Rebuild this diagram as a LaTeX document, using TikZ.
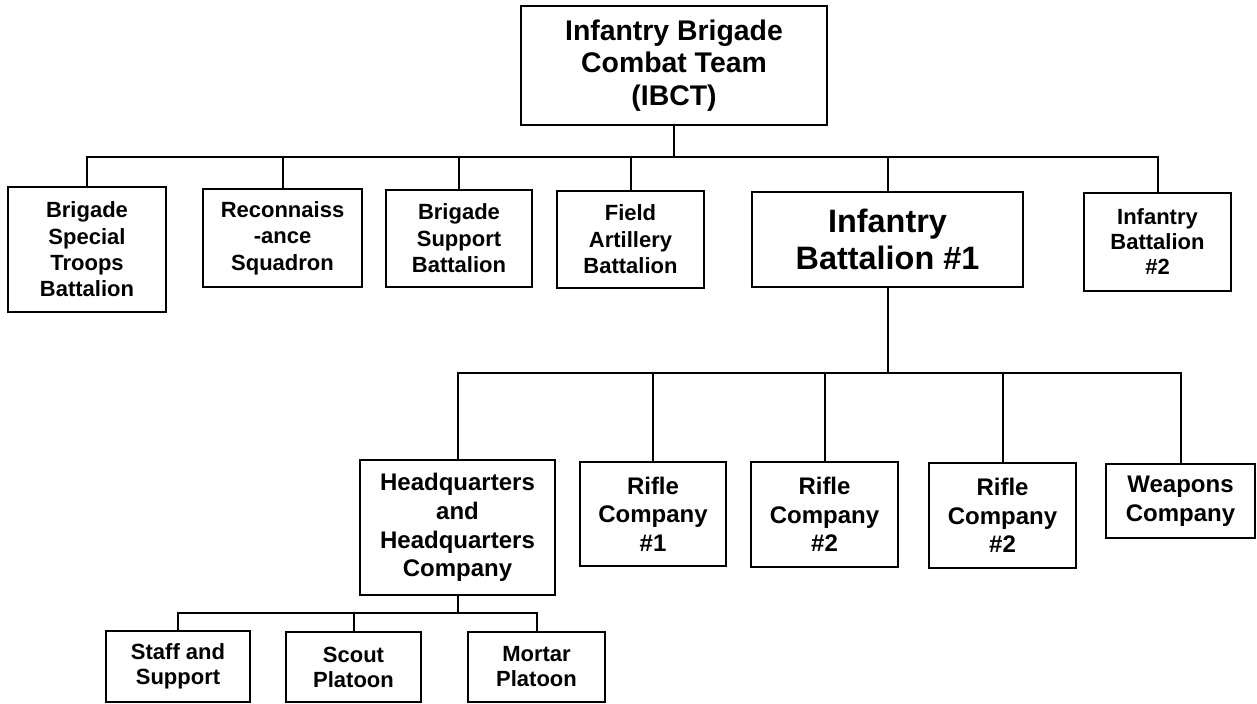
\documentclass[tikz,border=0pt]{standalone}
\usepackage{fontspec}
\setmainfont{Liberation Sans}
\usepackage{tikz}

\begin{document}
\begin{tikzpicture}[x=0.5pt, y=-0.5pt,
    unit/.style={draw, line width=1.2pt, align=center, inner sep=0pt},
    big/.style={font=\fontsize{14.2}{16.3}\selectfont\bfseries},
    mid/.style={font=\fontsize{11}{13.2}\selectfont\bfseries},
    huge/.style={font=\fontsize{16.2}{18.5}\selectfont\bfseries},
    co/.style={font=\fontsize{12}{14.3}\selectfont\bfseries},
    plt/.style={font=\fontsize{11}{12.5}\selectfont\bfseries},
    link/.style={line width=1pt}]
    \useasboundingbox (0,0) rectangle (1257,703);
    % brigade
    \node[unit, big, minimum width=153pt, minimum height=59.5pt] (ibct) at (674,65.5) {Infantry Brigade\\Combat Team\\(IBCT)};
    \node[unit, mid, minimum width=79pt, minimum height=62.5pt] (bstb) at (87,249.5) {Brigade\\Special\\Troops\\Battalion};
    \node[unit, mid, minimum width=79.5pt, minimum height=49pt] (recon) at (282.5,238) {Reconnaiss\\-ance\\Squadron};
    \node[unit, mid, minimum width=73pt, minimum height=48.5pt] (bsb) at (459,238.5) {Brigade\\Support\\Battalion};
    \node[unit, mid, minimum width=73.5pt, minimum height=48.5pt] (fab) at (630.5,239.5) {Field\\Artillery\\Battalion};
    \node[unit, huge, minimum width=135.5pt, minimum height=47.5pt] (inf1) at (887.5,239.5) {Infantry\\Battalion \#1};
    \node[unit, plt, minimum width=73.5pt, minimum height=49pt] (inf2) at (1157.5,242) {Infantry\\Battalion\\\#2};
    % battalion
    \node[unit, co, minimum width=97.5pt, minimum height=67.5pt] (hhc) at (457.5,527.5) {Headquarters\\and\\Headquarters\\Company};
    \node[unit, co, minimum width=73pt, minimum height=52pt] (rc1) at (653,514) {Rifle\\Company\\\#1};
    \node[unit, co, minimum width=73.5pt, minimum height=52.5pt] (rc2) at (824.5,514.5) {Rifle\\Company\\\#2};
    \node[unit, co, minimum width=73.5pt, minimum height=52.5pt] (rc3) at (1002.5,515.5) {Rifle\\Company\\\#2};
    \node[unit, co, minimum width=74.5pt, minimum height=37pt] (wpn) at (1180.5,501) {Weapons\\Company};
    % company
    \node[unit, plt, minimum width=72pt, minimum height=35.5pt] (staff) at (178,666.5) {Staff and\\Support};
    \node[unit, plt, minimum width=67.5pt, minimum height=35pt] (scout) at (353.5,667) {Scout\\Platoon};
    \node[unit, plt, minimum width=68.5pt, minimum height=35pt] (mortar) at (536.5,667) {Mortar\\Platoon};

    \coordinate (bus1) at (0,157);
    \coordinate (bus2) at (0,373);
    \coordinate (bus3) at (0,613);

    \draw[link] (ibct.south) -- (ibct.south |- bus1);
    \draw[link] (bstb.north) -- (bstb.north |- bus1) -- (inf2.north |- bus1) -- (inf2.north);
    \foreach \n in {recon, bsb, fab, inf1}
        \draw[link] (\n.north) -- (\n.north |- bus1);

    \draw[link] (inf1.south) -- (inf1.south |- bus2);
    \draw[link] (hhc.north) -- (hhc.north |- bus2) -- (wpn.north |- bus2) -- (wpn.north);
    \foreach \n in {rc1, rc2, rc3}
        \draw[link] (\n.north) -- (\n.north |- bus2);

    \draw[link] (hhc.south) -- (hhc.south |- bus3);
    \draw[link] (staff.north) -- (staff.north |- bus3) -- (mortar.north |- bus3) -- (mortar.north);
    \draw[link] (scout.north) -- (scout.north |- bus3);
\end{tikzpicture}
\end{document}
